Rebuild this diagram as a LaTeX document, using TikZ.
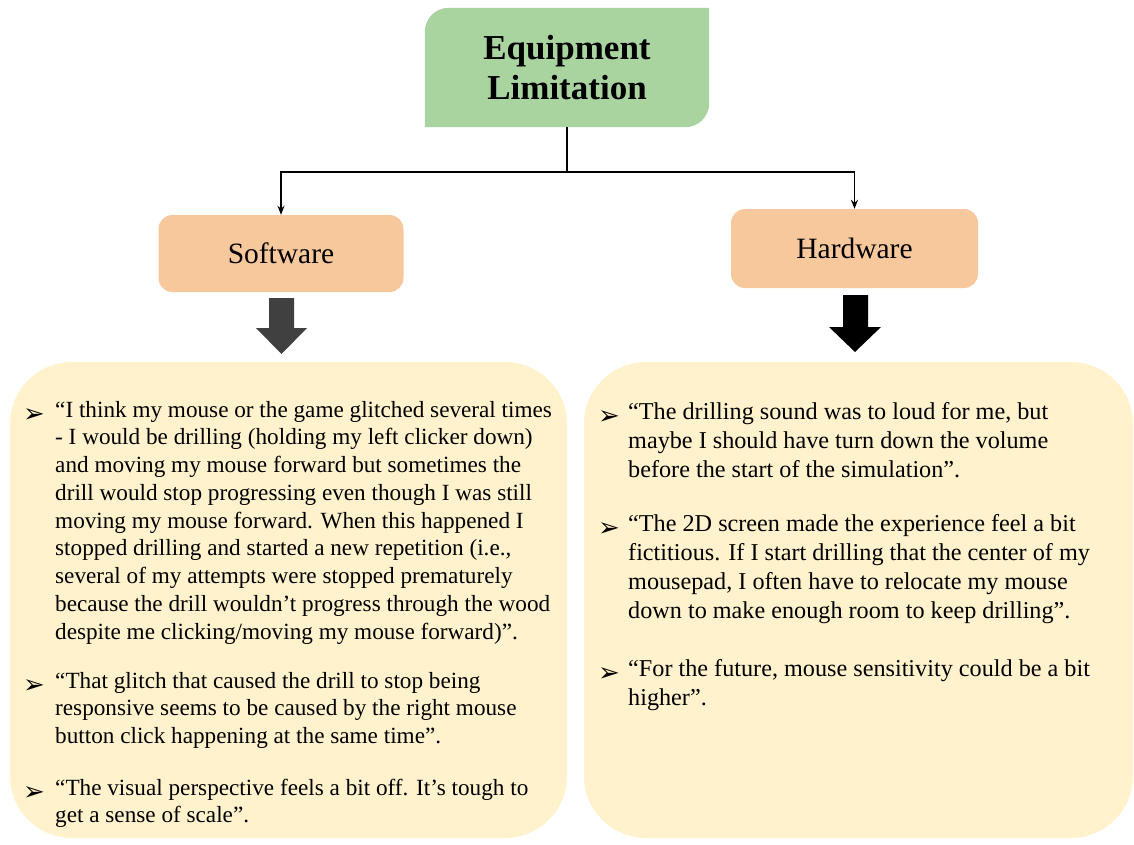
\documentclass[tikz,border=0pt]{standalone}
\usepackage{fontspec}
\setmainfont{Liberation Serif}
\newfontfamily\symfont{DejaVu Sans}
\usetikzlibrary{backgrounds,arrows.meta}
\definecolor{titlegreen}{HTML}{A9D4A0}
\definecolor{peach}{HTML}{F8C89D}
\definecolor{cream}{HTML}{FFF2CC}
\definecolor{darkarrow}{HTML}{404040}
\tikzset{
  titlebox/.style={minimum width=284pt, minimum height=119pt, inner sep=0pt, align=center,
    font=\fontsize{35}{40}\selectfont\bfseries},
  catbox/.style={fill=peach, rounded corners=14pt, inner sep=0pt, font=\fontsize{29.5}{33}\selectfont},
  panel/.style={fill=cream, rounded corners=62pt, inner sep=0pt},
  bul/.style={anchor=base west, inner sep=0pt, font=\symfont\fontsize{26}{28}\selectfont},
  quoteL/.style={anchor=base west, inner sep=0pt, align=left, font=\fontsize{23.2}{27.75}\selectfont},
  quoteR/.style={anchor=base west, inner sep=0pt, align=left, font=\fontsize{24.2}{29.3}\selectfont},
  conn/.style={line width=1.8pt, black},
  tip/.style={-{Stealth[length=9pt,width=7pt]}},
}
\begin{document}
\begin{tikzpicture}[x=1pt,y=-1pt]
\useasboundingbox (0,0) rectangle (1134,845);
% title
\node[titlebox] (eq) at (567,67.5) {Equipment\\Limitation};
\begin{pgfonlayer}{background}
\fill[titlegreen] (eq.south west) -- ([yshift=-24pt]eq.north west)
  arc[start angle=180,end angle=90,radius=24pt] -- (eq.north east)
  -- ([yshift=24pt]eq.south east) arc[start angle=0,end angle=-90,radius=24pt] -- cycle;
\end{pgfonlayer}
% categories
\node[catbox, minimum width=245pt, minimum height=77pt] (sw) at (281,253.5) {Software};
\node[catbox, minimum width=247pt, minimum height=79pt] (hw) at (854.5,248.5) {Hardware};
% connectors
\coordinate (j) at ([yshift=-45pt]eq.south);
\draw[conn] (eq.south) -- (j);
\draw[conn,tip] (j) -| (sw.north);
\draw[conn,tip] (j) -| (hw.north);
% panels
\node[panel, minimum width=557pt, minimum height=476pt] (lp) at (288.5,600) {};
\node[panel, minimum width=549pt, minimum height=476pt] (rp) at (858.5,600) {};
% block arrows
\fill[darkarrow] (269,298) -- (294,298) -- (294,328) -- (307,328) -- (281.5,354) -- (256,328) -- (269,328) -- cycle;
\fill[black] (843,295) -- (868,295) -- (868,327) -- (881,327) -- (855,352) -- (829,327) -- (843,327) -- cycle;
% left quotes (base anchor = baseline of the last line)
\node[bul] (lb1) at (23,422) {➢};
\node[quoteL] (lq1) at (55,639) {“I think my mouse or the game glitched several times\\
- I would be drilling (holding my left clicker down)\\
and moving my mouse forward but sometimes the\\
drill would stop progressing even though I was still\\
moving my mouse forward. When this happened I\\
stopped drilling and started a new repetition (i.e.,\\
several of my attempts were stopped prematurely\\
because the drill wouldn't progress through the wood\\
despite me clicking/moving my mouse forward)”.};
\node[bul] (lb2) at (23,693) {➢};
\node[quoteL] (lq2) at (55,743.5) {“That glitch that caused the drill to stop being\\
responsive seems to be caused by the right mouse\\
button click happening at the same time”.};
\node[bul] (lb3) at (23,800) {➢};
\node[quoteL] (lq3) at (55,822.75) {“The visual perspective feels a bit off. It's tough to\\
get a sense of scale”.};
% right quotes
\node[bul] (rb1) at (598,424) {➢};
\node[quoteR] (rq1) at (628,477.6) {“The drilling sound was to loud for me, but\\
maybe I should have turn down the volume\\
before the start of the simulation”.};
\node[bul] (rb2) at (598,536) {➢};
\node[quoteR] (rq2) at (628,618.9) {“The 2D screen made the experience feel a bit\\
fictitious. If I start drilling that the center of my\\
mousepad, I often have to relocate my mouse\\
down to make enough room to keep drilling”.};
\node[bul] (rb3) at (598,681) {➢};
\node[quoteR] (rq3) at (628,705.3) {“For the future, mouse sensitivity could be a bit\\
higher”.};
\end{tikzpicture}
\end{document}
